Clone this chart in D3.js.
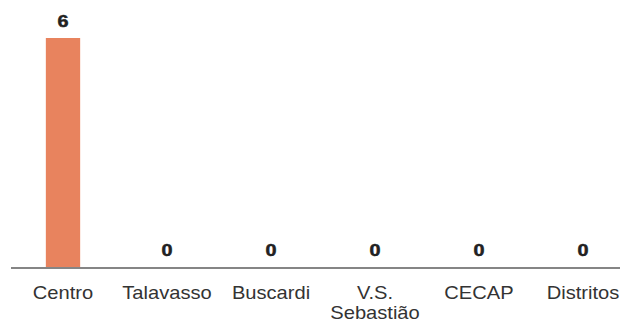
<!DOCTYPE html>
<html><head><meta charset="utf-8">
<script src="https://cdn.jsdelivr.net/npm/d3@7"></script>
<style>body{margin:0;background:#fff}svg{display:block}</style>
</head><body>
<script>
const categories = ["Centro", "Talavasso", "Buscardi", "V.S. Sebastião", "CECAP", "Distritos"];
const labelLines = [["Centro"], ["Talavasso"], ["Buscardi"], ["V.S.", "Sebastião"], ["CECAP"], ["Distritos"]];
const values = [6, 0, 0, 0, 0, 0];

const W = 620, H = 325;
const svg = d3.select("body").append("svg").attr("width", W).attr("height", H);
const x = d3.scaleBand().domain(categories).range([11, 635]).paddingInner(0.67).paddingOuter(0.335);
const y = d3.scaleLinear().domain([0, 6]).range([268, 38]);
const cx = d => x(d) + x.bandwidth() / 2;

svg.selectAll("rect.bar").data(values).join("rect")
  .attr("x", (d, i) => x(categories[i]))
  .attr("y", d => y(d))
  .attr("width", x.bandwidth())
  .attr("height", d => y(0) - y(d))
  .attr("fill", "#E8835E");

svg.selectAll("g.val").data(values).join("g")
  .attr("transform", (d, i) => `translate(${cx(categories[i])},${y(d) - (d > 0 ? 11 : 12)}) scale(1.2,1)`)
  .append("text")
  .attr("text-anchor", "middle")
  .attr("font-family", "Liberation Sans, Arial, sans-serif")
  .attr("font-weight", "bold")
  .attr("font-size", 16.5)
  .attr("stroke", "#222")
  .attr("stroke-width", 0.5)
  .attr("fill", "#222")
  .text(d => d);

svg.append("line").attr("x1", 11).attr("x2", 620).attr("y1", y(0)).attr("y2", y(0))
  .attr("stroke", "#858585").attr("stroke-width", 2);

const lg = svg.selectAll("g.cat").data(categories).join("g")
  .attr("transform", d => `translate(${cx(d)},299) scale(1.15,1)`);
lg.each(function(d, i) {
  d3.select(this).selectAll("text").data(labelLines[i]).join("text")
    .attr("x", 0)
    .attr("y", (t, j) => j * 20)
    .attr("text-anchor", "middle")
    .attr("font-family", "Liberation Sans, Arial, sans-serif")
    .attr("font-size", 17.5)
    .attr("fill", "#333")
    .text(t => t);
});
</script>
</body></html>
